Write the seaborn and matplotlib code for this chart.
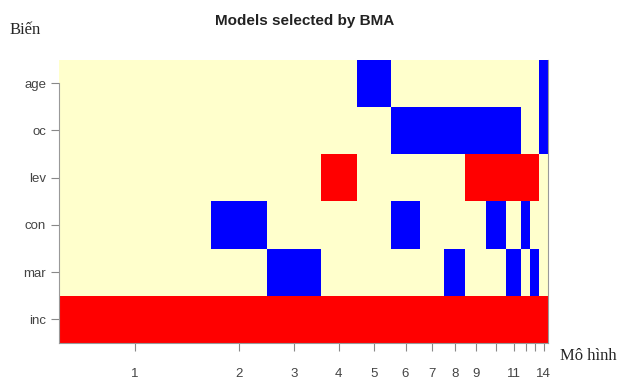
import numpy as np
import matplotlib
matplotlib.use("Agg")
import matplotlib.pyplot as plt
from matplotlib.colors import ListedColormap
import seaborn as sns

sns.set_style("white")
plt.rcParams['font.family'] = ['Liberation Sans', 'DejaVu Sans']

# variables (top to bottom) and posterior probability of each model
variables = ["age", "oc", "lev", "con", "mar", "inc"]
post_prob = [0.312, 0.114, 0.110, 0.074, 0.069, 0.061, 0.049,
             0.043, 0.043, 0.041, 0.029, 0.020, 0.018, 0.018]
model_labels = ["1", "2", "3", "4", "5", "6", "7", "8", "9", "", "11", "", "", "14"]

# sign of coefficient in each model: 1 positive, -1 negative, 0 not selected
age = [0, 0, 0, 0, -1, 0, 0, 0, 0, 0, 0, 0, 0, -1]
oc  = [0, 0, 0, 0, 0, -1, -1, -1, -1, -1, -1, 0, 0, -1]
lev = [0, 0, 0, 1, 0, 0, 0, 0, 1, 1, 1, 1, 1, 0]
con = [0, -1, 0, 0, 0, -1, 0, 0, 0, -1, 0, -1, 0, 0]
mar = [0, 0, -1, 0, 0, 0, 0, -1, 0, 0, -1, 0, -1, 0]
inc = [1] * 14

signs = np.array([age, oc, lev, con, mar, inc])
x_edges = np.concatenate([[0], np.cumsum(post_prob)])
x_mid = (x_edges[:-1] + x_edges[1:]) / 2
y_edges = np.arange(len(variables) + 1)

cmap = ListedColormap(["#0000FF", "#FFFFCC", "#FF0000"])

fig = plt.figure(figsize=(6.22, 3.81), dpi=100)
ax = fig.add_axes([0.0944, 0.0997, 0.7867, 0.7441])
ax.pcolormesh(x_edges, y_edges, signs, cmap=cmap, vmin=-1.5, vmax=1.5)
ax.set_xlim(0, x_edges[-1])
ax.set_ylim(len(variables), 0)

ax.set_yticks(np.arange(len(variables)) + 0.5)
ax.set_yticklabels(variables, fontsize=9.5, color="#444444")
ax.set_xticks(x_mid)
ax.set_xticklabels(model_labels, fontsize=9.5, color="#444444")
ax.tick_params(bottom=True, left=True, length=6, width=0.8, color="#888888")
ax.tick_params(axis="x", pad=12)
ax.tick_params(axis="y", pad=3)
for side in ["left", "bottom", "right"]:
    ax.spines[side].set_color("#999999")
    ax.spines[side].set_linewidth(0.8)
ax.spines["top"].set_visible(False)
ax.spines["left"].set_bounds(0.5, len(variables))

fig.text(0.489, 0.945, "Models selected by BMA", fontsize=11, fontweight="bold",
         color="#222222", ha="center", va="center")
fig.text(0.016, 0.92, "Biến", fontsize=12, family=["Liberation Serif", "DejaVu Serif"],
         ha="left", va="center")
fig.text(0.9, 0.066, "Mô hình", fontsize=12, family=["Liberation Serif", "DejaVu Serif"],
         ha="left", va="center")

fig.savefig("out.png", dpi=100)
